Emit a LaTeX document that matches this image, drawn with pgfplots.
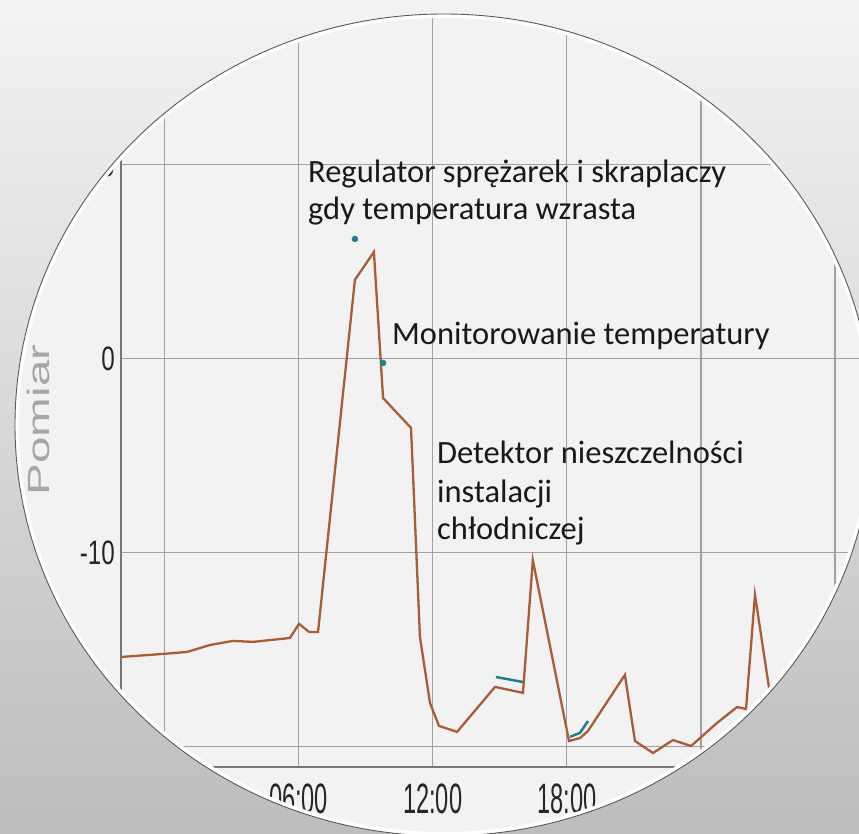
\documentclass[border=0pt]{standalone}
\usepackage{fontspec}
\setmainfont{Carlito}
\newfontfamily\arialf{Liberation Sans}
\usepackage{pgfplots}
\pgfplotsset{compat=1.18}
\definecolor{brownline}{HTML}{AA5C37}
\definecolor{tealc}{HTML}{1F7F8F}
\definecolor{plotbg}{HTML}{F2F2F2}
\definecolor{gridc}{HTML}{A0A0A0}
\definecolor{axisc}{HTML}{767676}
\definecolor{bgtop}{HTML}{F3F3F3}
\definecolor{bgmid}{HTML}{E4E4E4}
\definecolor{bgbot}{HTML}{BDBDBD}
\begin{document}
\begin{tikzpicture}
\shade[top color=bgtop, middle color=bgmid, bottom color=bgbot] (0bp,0bp) rectangle (859bp,834bp);
\fill[plotbg] (444bp,409bp) ellipse [x radius=429bp, y radius=411bp];
\begin{scope}
\clip (444bp,409bp) ellipse [x radius=429bp, y radius=411bp];
\begin{axis}[
  at={(121bp,67bp)}, anchor=south west,
  scale only axis, width=747.5bp, height=762bp,
  xmin=-1.946, xmax=31.5, ymin=-21.06, ymax=18.22,
  axis lines*=left,
  axis line style={draw=axisc, line width=1.8bp},
  major tick length=0pt,
  grid=major,
  major grid style={draw=gridc, line width=1.4bp},
  xtick={0,6,12,18,24,30},
  xticklabels={{},\scalebox{1}[1.8]{06:00},\scalebox{1}[1.8]{12:00},\scalebox{1}[1.8]{18:00},{},{}},
  ytick={-20,-10,0,10},
  yticklabels={{},\scalebox{1}[1.4]{-10},\scalebox{1}[1.4]{0},\scalebox{1}[1.4]{10}},
  xticklabel style={font=\arialf\fontsize{23.6bp}{26bp}\selectfont, inner sep=0pt, anchor=north, yshift=-17bp, text=black!85},
  yticklabel style={font=\arialf\fontsize{24.2bp}{26bp}\selectfont, inner sep=0pt, anchor=east, xshift=-6bp, text=black!85},
  clip=true,
]
\addplot[brownline, line width=2.3bp] coordinates {
(-1.95,-15.39) (-0.07,-15.23) (1.01,-15.13) (2.04,-14.77) (3.06,-14.56) (3.96,-14.61)
(5.61,-14.41) (6.02,-13.68) (6.47,-14.10) (6.87,-14.10) (8.52,4.05) (9.37,5.49)
(9.78,-2.04) (11.03,-3.58) (11.43,-14.36) (11.88,-17.76) (12.28,-18.94) (13.09,-19.25)
(14.79,-16.93) (16.04,-17.24) (16.48,-10.39) (18.10,-19.72) (18.59,-19.57) (18.95,-19.20)
(20.60,-16.31) (21.05,-19.72) (21.86,-20.34) (22.75,-19.67) (23.56,-19.98) (24.72,-18.79)
(25.62,-17.97) (26.02,-18.07) (26.42,-12.19) (27.05,-16.98) (27.5,-19.4)
};
\addplot[tealc, line width=2.5bp] coordinates {(14.83,-16.42) (16.04,-16.68)};
\addplot[tealc, line width=2.5bp] coordinates {(18.14,-19.51) (18.59,-19.30) (18.95,-18.69)};
\addplot[only marks, mark=*, mark size=3bp, tealc] coordinates {(8.52,6.16) (9.78,-0.23)};
\end{axis}
\end{scope}
\draw[white, line width=4bp] (444bp,409bp) ellipse [x radius=427bp, y radius=409bp];
\draw[black!65, line width=0.9bp] (444bp,409bp) ellipse [x radius=429bp, y radius=411bp];
\node[rotate=90, anchor=center, inner sep=0pt, text=black!35, font=\arialf\fontsize{30.7bp}{32bp}\selectfont] at (39bp,414bp) {\scalebox{1.55}[1]{Pomiar}};
\begin{scope}[every node/.style={inner sep=0pt, anchor=base west, text=black!90, font=\fontsize{32.5bp}{37bp}\selectfont}]
\node at (308bp,651bp) {Regulator sprężarek i skraplaczy};
\node at (308bp,614bp) {gdy temperatura wzrasta};
\node at (392bp,489bp) {Monitorowanie temperatury};
\node at (437bp,370bp) {Detektor nieszczelności};
\node at (437bp,331bp) {instalacji};
\node at (437bp,294bp) {chłodniczej};
\end{scope}
\pgfresetboundingbox
\path[use as bounding box] (0bp,0bp) rectangle (859bp,834bp);
\end{tikzpicture}
\end{document}
